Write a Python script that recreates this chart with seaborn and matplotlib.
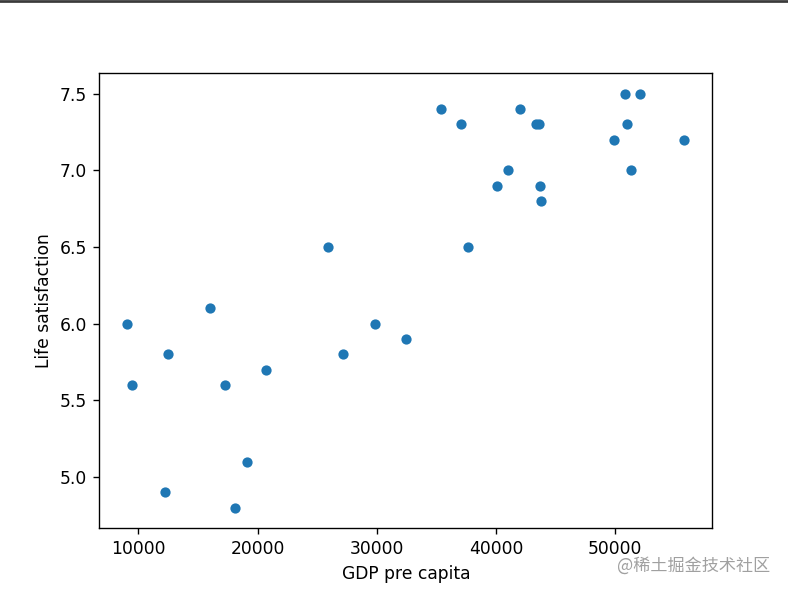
import matplotlib
matplotlib.use("Agg")
import pandas as pd
import seaborn as sns
import matplotlib.pyplot as plt
from matplotlib.lines import Line2D

# OECD life satisfaction vs GDP per capita
countries = ["Russia", "Turkey", "Hungary", "Poland", "Slovak Republic",
             "Estonia", "Greece", "Portugal", "Slovenia", "Spain", "Korea",
             "Italy", "Japan", "Israel", "New Zealand", "France", "Belgium",
             "Germany", "Finland", "Canada", "Netherlands", "Austria",
             "United Kingdom", "Sweden", "Iceland", "Australia", "Ireland",
             "Denmark", "United States"]
gdp = [9054.914, 9437.372, 12239.894, 12495.334, 15991.736,
       17288.083, 18064.288, 19121.592, 20732.482, 25864.721, 27195.197,
       29866.581, 32485.545, 35343.336, 37044.891, 37675.006, 40106.632,
       40996.511, 41973.988, 43331.961, 43603.115, 43724.031,
       43770.688, 49866.266, 50854.583, 50961.865, 51350.744,
       52114.165, 55805.204]
life_sat = [6.0, 5.6, 4.9, 5.8, 6.1,
            5.6, 4.8, 5.1, 5.7, 6.5, 5.8,
            6.0, 5.9, 7.4, 7.3, 6.5, 6.9,
            7.0, 7.4, 7.3, 7.3, 6.9,
            6.8, 7.2, 7.5, 7.3, 7.0,
            7.5, 7.2]

df = pd.DataFrame({"Country": countries,
                   "GDP pre capita": gdp,
                   "Life satisfaction": life_sat})

fig, ax = plt.subplots(figsize=(788 / 123, 592 / 123), dpi=123)
fig.subplots_adjust(left=0.126, right=0.904, bottom=0.1076, top=0.877)

sns.scatterplot(data=df, x="GDP pre capita", y="Life satisfaction",
                ax=ax, color="#1f77b4", s=36, linewidth=0)

# thin dark rule along the top of the screenshot
fig.add_artist(Line2D([0, 1], [0.998, 0.998], transform=fig.transFigure,
                      color="#3a3a3a", linewidth=1.6))

# watermark
fig.text(0.978, 0.045, "@稀土掘金技术社区", ha="right", va="center",
         fontsize=10, color="#a0a0a0",
         family=["Noto Sans CJK SC", "DejaVu Sans"])

fig.savefig("out.png", dpi=123)
